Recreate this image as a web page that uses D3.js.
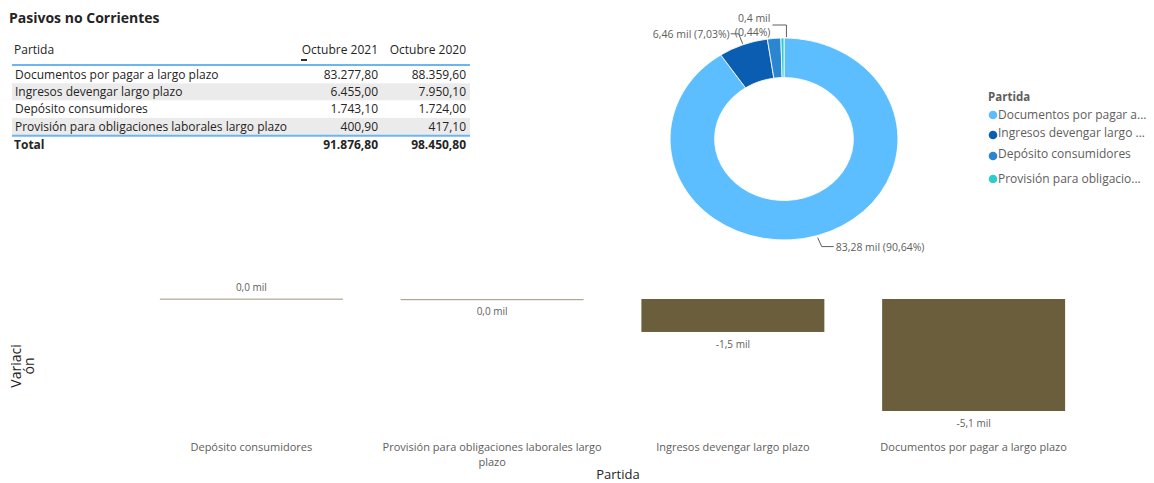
<!DOCTYPE html>
<html>
<head>
<meta charset="utf-8">
<script src="https://cdn.jsdelivr.net/npm/d3@7"></script>
<style>
  body { margin: 0; background: #fff; }
  text { font-family: "Open Sans", "Noto Sans", sans-serif; }
</style>
</head>
<body>
<div class="chart"></div>
<script>
// table / donut data (Octubre 2021 vs Octubre 2020)
const partidas = [
  "Documentos por pagar a largo plazo",
  "Ingresos devengar largo plazo",
  "Depósito consumidores",
  "Provisión para obligaciones laborales largo plazo"
]
const octubre2021 = [83277.8, 6455.0, 1743.1, 400.9]
const octubre2020 = [88359.6, 7950.1, 1724.0, 417.1]
const legendLabels = [
  "Documentos por pagar a...",
  "Ingresos devengar largo ...",
  "Depósito consumidores",
  "Provisión para obligacio..."
]

// variation bar chart, in bar order
const barPartidas = [
  "Depósito consumidores",
  "Provisión para obligaciones laborales largo plazo",
  "Ingresos devengar largo plazo",
  "Documentos por pagar a largo plazo"
]
const barVariacion = [19.1, -16.2, -1495.1, -5081.8]

const colors = {
  text: "#252423",
  grey: "#605E5C",
  rowGrey: "#EBEBEB",
  rule: "#6CB6F0",
  bar: "#6B5E3C",
  slices: ["#5CBEFF", "#0B5DB2", "#2A86D1", "#2ECCCC"]
}

const es = d3.formatLocale({ decimal: ",", thousands: ".", grouping: [3], currency: ["", ""], minus: "-" })
const fmtTable = es.format(",.2f")
const fmtMil1 = v => es.format(".1f")(v / 1000) + " mil"
const fmtMil2 = v => es.format(".2f")(v / 1000) + " mil"
const fmtPct = es.format(".2%")

const svg = d3.select(".chart").append("svg")
    .attr("width", 1154)
    .attr("height", 483)

// ---------- table ----------
const table = svg.append("g")
const fs = 12

table.append("text")
    .attr("x", 9).attr("y", 23)
    .attr("font-size", 14).attr("font-weight", 700)
    .attr("fill", colors.text)
    .text("Pasivos no Corrientes")

const col1 = 378, col2 = 466, rowH = 17.3, firstRow = 66

table.append("text").attr("x", 14).attr("y", 54)
    .attr("font-size", fs).attr("fill", colors.text).text("Partida")
table.append("text").attr("x", col1).attr("y", 54).attr("text-anchor", "end")
    .attr("font-size", fs).attr("fill", colors.text).text("Octubre 2021")
table.append("text").attr("x", col2).attr("y", 54).attr("text-anchor", "end")
    .attr("font-size", fs).attr("fill", colors.text).text("Octubre 2020")
table.append("rect").attr("x", 301).attr("y", 59).attr("width", 6).attr("height", 2)
    .attr("fill", "#333")

const rows = table.selectAll(".row")
  .data(partidas)
  .join("g")
    .attr("class", "row")
    .attr("transform", (d, i) => `translate(0, ${firstRow + i * rowH})`)

rows.append("rect")
    .attr("x", 12).attr("width", 458).attr("height", rowH)
    .attr("fill", (d, i) => i % 2 ? colors.rowGrey : "#fff")
rows.append("text").attr("x", 15).attr("y", 12.8)
    .attr("font-size", fs).attr("fill", colors.text).text(d => d)
rows.append("text").attr("x", col1).attr("y", 12.8).attr("text-anchor", "end")
    .attr("font-size", fs).attr("fill", colors.text).text((d, i) => fmtTable(octubre2021[i]))
rows.append("text").attr("x", col2).attr("y", 12.8).attr("text-anchor", "end")
    .attr("font-size", fs).attr("fill", colors.text).text((d, i) => fmtTable(octubre2020[i]))

table.append("line").attr("x1", 12).attr("x2", 470).attr("y1", 65).attr("y2", 65)
    .attr("stroke", colors.rule).attr("stroke-width", 2)
const lineY = firstRow + partidas.length * rowH + 0.5
table.append("line").attr("x1", 12).attr("x2", 470).attr("y1", lineY).attr("y2", lineY)
    .attr("stroke", colors.rule).attr("stroke-width", 2)

const totalY = lineY + 13
table.append("text").attr("x", 14).attr("y", totalY)
    .attr("font-size", fs).attr("font-weight", 700).attr("fill", colors.text).text("Total")
table.append("text").attr("x", col1).attr("y", totalY).attr("text-anchor", "end")
    .attr("font-size", fs).attr("font-weight", 700).attr("fill", colors.text)
    .text(fmtTable(d3.sum(octubre2021)))
table.append("text").attr("x", col2).attr("y", totalY).attr("text-anchor", "end")
    .attr("font-size", fs).attr("font-weight", 700).attr("fill", colors.text)
    .text(fmtTable(d3.sum(octubre2020)))

// ---------- donut ----------
const cx = 784, cy = 139, r = 101, rInner = 61.5, stretch = 1.128
const total = d3.sum(octubre2021)

const pie = d3.pie().sort(null).value(d => d)
const arcs = pie(octubre2021)
const arcGen = d3.arc().innerRadius(rInner).outerRadius(r)

svg.append("g")
    .attr("transform", `translate(${cx}, ${cy}) scale(${stretch}, 1)`)
  .selectAll("path")
  .data(arcs)
  .join("path")
    .attr("d", arcGen)
    .attr("fill", (d, i) => colors.slices[i])
    .attr("stroke", "#fff")
    .attr("stroke-width", 0.8)

const edgePoint = (a, rad) => {
  const m = (a.startAngle + a.endAngle) / 2
  return [cx + Math.sin(m) * rad * stretch, cy - Math.cos(m) * rad]
}

const labels = svg.append("g")
    .attr("font-size", 10.5)
    .attr("fill", colors.grey)

// big slice: label bottom right
{
  const a = arcs[0]
  const [x0, y0] = edgePoint(a, r + 2)
  const p = d3.path()
  p.moveTo(x0, y0); p.lineTo(x0 + 4, y0 + 9); p.lineTo(x0 + 16, y0 + 9)
  labels.append("path").attr("d", p.toString()).attr("fill", "none").attr("stroke", colors.grey)
  labels.append("text").attr("x", x0 + 18).attr("y", y0 + 13)
      .text(`${fmtMil2(octubre2021[0])} (${fmtPct(octubre2021[0] / total)})`)
}
// ingresos: label top left
{
  const a = arcs[1]
  const [x0, y0] = edgePoint(a, r + 1)
  const p = d3.path()
  p.moveTo(x0, y0); p.lineTo(x0 - 4, y0 - 10); p.lineTo(x0 - 12, y0 - 10)
  labels.append("path").attr("d", p.toString()).attr("fill", "none").attr("stroke", colors.grey)
  labels.append("text").attr("x", x0 - 13).attr("y", y0 - 6).attr("text-anchor", "end")
      .text(`${fmtMil2(octubre2021[1])} (${fmtPct(octubre2021[1] / total)})`)
}
// provision: two-line label above
{
  const a = arcs[3]
  const [x0, y0] = edgePoint(a, r + 1)
  const p = d3.path()
  p.moveTo(x0 + 4, y0); p.lineTo(x0 + 4, y0 - 12); p.lineTo(x0 - 10, y0 - 12)
  labels.append("path").attr("d", p.toString()).attr("fill", "none").attr("stroke", colors.grey)
  labels.append("text").attr("x", x0 - 12).attr("y", y0 - 15).attr("text-anchor", "end")
      .text(fmtMil1(octubre2021[3]))
  labels.append("text").attr("x", x0 - 12).attr("y", y0 - 1).attr("text-anchor", "end")
      .text(`(${fmtPct(octubre2021[3] / total)})`)
}

// legend
const legend = svg.append("g").attr("transform", "translate(988, 0)")
legend.append("text").attr("x", 0).attr("y", 101)
    .attr("font-size", 11.5).attr("font-weight", 700).attr("fill", colors.grey).text("Partida")
const legendY = [119, 137, 158, 183]
const items = legend.selectAll(".item")
  .data(legendLabels)
  .join("g")
    .attr("class", "item")
    .attr("transform", (d, i) => `translate(0, ${legendY[i]})`)
items.append("circle").attr("cx", 5).attr("cy", (d, i) => i === 1 || i === 2 ? -2 : -4).attr("r", 4.3)
    .attr("fill", (d, i) => colors.slices[i])
items.append("text").attr("x", 10).attr("y", 0)
    .attr("font-size", 12).attr("fill", colors.grey).text(d => d)

// ---------- variation bars ----------
const xScale = d3.scaleBand()
    .domain(barPartidas)
    .range([131, 1094])
    .paddingInner(0.24)
    .paddingOuter(0.12)

const yScale = d3.scaleLinear()
    .domain([-5081.8, 0])
    .range([411, 299])

const bars = svg.append("g")
bars.selectAll("rect")
  .data(barVariacion)
  .join("rect")
    .attr("x", (d, i) => xScale(barPartidas[i]))
    .attr("width", xScale.bandwidth())
    .attr("y", d => yScale(Math.max(d, 0)))
    .attr("height", d => Math.max(Math.abs(yScale(d) - yScale(0)), 1.2))
    .attr("fill", colors.bar)
    .attr("opacity", d => Math.abs(yScale(d) - yScale(0)) < 2 ? 0.55 : 1)

bars.selectAll(".bar-label")
  .data(barVariacion)
  .join("text")
    .attr("class", "bar-label")
    .attr("x", (d, i) => xScale(barPartidas[i]) + xScale.bandwidth() / 2)
    .attr("y", d => d >= 0 ? yScale(d) - 8 : yScale(d) + 16)
    .attr("text-anchor", "middle")
    .attr("font-size", 10)
    .attr("fill", colors.grey)
    .text(d => fmtMil1(d))

// category labels, wrapped to the band
const wrap = (sel, width) => {
  sel.each(function () {
    const t = d3.select(this)
    const words = t.text().split(" ")
    const x = t.attr("x"), y = +t.attr("y")
    t.text(null)
    let line = [], lineNo = 0
    let span = t.append("tspan").attr("x", x).attr("y", y)
    words.forEach(w => {
      line.push(w)
      span.text(line.join(" "))
      if (span.node().getComputedTextLength() > width && line.length > 1) {
        line.pop()
        span.text(line.join(" "))
        line = [w]
        lineNo += 1
        span = t.append("tspan").attr("x", x).attr("y", y + lineNo * 15).text(w)
      }
    })
  })
}

svg.append("g").selectAll("text")
  .data(barPartidas)
  .join("text")
    .attr("x", d => xScale(d) + xScale.bandwidth() / 2)
    .attr("y", 451)
    .attr("text-anchor", "middle")
    .attr("font-size", 11)
    .attr("fill", colors.grey)
    .text(d => d)
    .call(wrap, xScale.bandwidth() + 55)

svg.append("text")
    .attr("x", 618).attr("y", 479)
    .attr("text-anchor", "middle")
    .attr("font-size", 13)
    .attr("fill", colors.text)
    .text("Partida")

const yTitle = svg.append("text")
    .attr("transform", "translate(21, 366) rotate(-90)")
    .attr("text-anchor", "middle")
    .attr("font-size", 14)
    .attr("fill", colors.text)
yTitle.append("tspan").attr("x", 0).attr("y", 0).text("Variaci")
yTitle.append("tspan").attr("x", 0).attr("y", 13).text("ón")
</script>
</body>
</html>
